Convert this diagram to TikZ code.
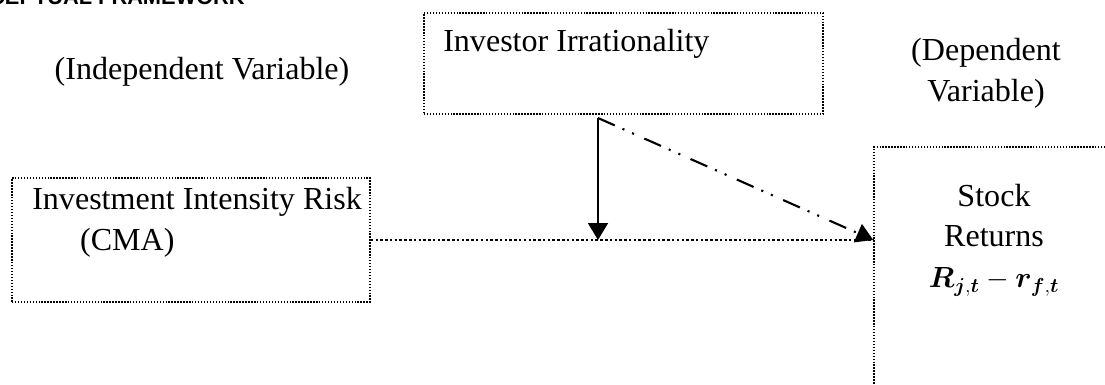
\documentclass[tikz,border=0pt]{standalone}
\usepackage{amsmath,bm}
\usepackage{fontspec}
\setmainfont{Liberation Serif}
\setsansfont{Liberation Sans}
\usetikzlibrary{arrows.meta}

\begin{document}
\begin{tikzpicture}[x=0.025cm,y=-0.025cm,font=\fontsize{22.8}{29}\selectfont,
  box/.style={draw,line width=1pt,dash pattern=on 1pt off 1.1pt,inner sep=0pt},
  lbl/.style={align=center,inner sep=0pt},
  tip/.style={-{Triangle[width=14pt,length=12pt]}}]
\useasboundingbox (0,0) rectangle (1105,385);
\node[anchor=base east,inner sep=0pt,font=\fontsize{15.5}{18}\selectfont\sffamily\bfseries] (title) at (245,5) {CONCEPTUAL FRAMEWORK};
\node[lbl] (indep) at (202,72) {(Independent Variable)};
\node[lbl] (dep) at (986,73) {(Dependent\\Variable)};
\node[box,minimum width=9.975cm,minimum height=2.525cm] (irr) at (623.5,63.5) {};
\node[lbl,anchor=west] (irrlbl) at (443,44) {Investor Irrationality};
\node[box,minimum width=8.95cm,minimum height=3.1cm] (cma) at (191,240) {};
\node[lbl,anchor=west,align=left] (cmalbl) at (32,222) {Investment Intensity Risk\\\hspace*{34pt}(CMA)};
\node[box,minimum width=6.15cm,minimum height=6.325cm] (stock) at (997,273.5) {};
\node[lbl] (stocklbl) at (994,240) {Stock\\Returns\\\fontsize{19.5}{24}\selectfont$\bm{R}_{\bm{j},\bm{t}}-\bm{r}_{\bm{f},\bm{t}}$};
\coordinate (mod) at (598,118);
\coordinate (hit) at (cma.east -| stock.west);
\draw[line width=1.8pt,dash pattern=on 1.8pt off 1.6pt] (cma.east) -- (hit);
\draw[tip,line width=1.7pt] (mod) -- (mod |- cma.east);
\draw[tip,line width=1.5pt,dash pattern=on 13pt off 6pt on 1.5pt off 6pt on 1.5pt off 8pt] (mod) -- (hit);
\end{tikzpicture}
\end{document}
